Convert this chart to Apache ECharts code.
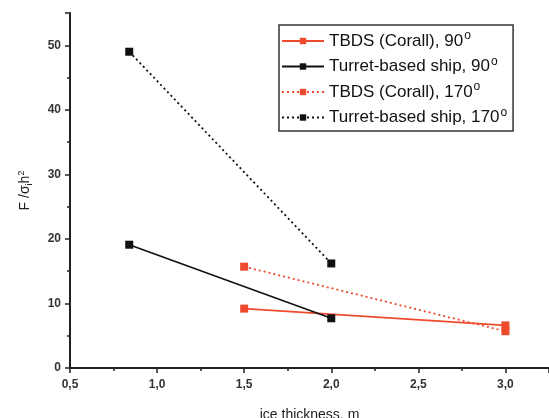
<!DOCTYPE html>
<html>
<head>
<meta charset="utf-8">
<script src="https://cdn.jsdelivr.net/npm/echarts@6/dist/echarts.min.js"></script>
<style>
  html, body { margin: 0; padding: 0; background: #fff; }
  #chart { width: 549px; height: 418px; }
</style>
</head>
<body>
<div id="chart"></div>
<script>
// ice thickness (m) and normalised force F/(sigma_i h^2)
const seriesNames = [
  'TBDS (Corall), 90',
  'Turret-based ship, 90',
  'TBDS (Corall), 170',
  'Turret-based ship, 170'
];
const coral90X = [1.5, 3.0];
const coral90Y = [9.2, 6.6];
const turret90X = [0.84, 2.0];
const turret90Y = [19.1, 7.7];
const coral170X = [1.5, 3.0];
const coral170Y = [15.7, 5.7];
const turret170X = [0.84, 2.0];
const turret170Y = [49.0, 16.2];

const RED = '#ee4a2e';
const BLACK = '#111';

function pairs(xs, ys) {
  return xs.map((x, i) => [x, ys[i]]);
}

function makeSeries(name, xs, ys, color, lineType) {
  return {
    name: name,
    type: 'line',
    data: pairs(xs, ys),
    symbol: 'rect',
    symbolSize: 8,
    itemStyle: { color: color },
    lineStyle: { color: color, width: lineType === 'solid' ? 1.6 : 1.8, type: lineType },
    animation: false
  };
}

const chart = echarts.init(document.getElementById('chart'));
chart.setOption({
  backgroundColor: '#fff',
  textStyle: { fontFamily: 'Liberation Sans, Arial, sans-serif' },
  grid: { left: 70, right: 0, top: 13, bottom: 50, outerBoundsMode: 'none', containLabel: false },
  legend: {
    orient: 'vertical',
    left: 279,
    top: 25,
    padding: [5, 6, 5, 2],
    itemGap: 6,
    itemWidth: 42,
    itemHeight: 8,
    borderColor: '#333',
    borderWidth: 1.5,
    formatter: name => '{t|' + name + '}{s|o}',
    textStyle: {
      rich: {
        t: { fontSize: 17, color: '#111', fontFamily: 'Liberation Sans' },
        s: { fontSize: 12, color: '#111', verticalAlign: 'top', padding: [0, 0, 10, 1], fontFamily: 'Liberation Sans' }
      }
    },
    data: seriesNames
  },
  xAxis: {
    type: 'value',
    min: 0.5,
    max: 3.25,
    interval: 0.5,
    name: 'ice thickness, m',
    nameLocation: 'middle',
    nameGap: 40,
    nameTextStyle: { fontSize: 14, color: '#222' },
    splitLine: { show: false },
    axisLine: { lineStyle: { color: '#222', width: 2 } },
    axisTick: { length: 5, lineStyle: { color: '#222', width: 1.5 } },
    minorTick: { show: true, splitNumber: 2, length: 3, lineStyle: { color: '#222', width: 1.5 } },
    axisLabel: {
      fontSize: 12, fontWeight: 'bold', color: '#333', margin: 11,
      showMaxLabel: false,
      formatter: v => v.toFixed(1).replace('.', ',')
    }
  },
  yAxis: {
    type: 'value',
    min: 0,
    max: 55,
    interval: 10,
    name: '{a|F /σ}{b|i}{a|h}{c|2}',
    nameLocation: 'middle',
    nameGap: 36,
    nameRotate: 90,
    nameTextStyle: {
      rich: {
        a: { fontSize: 14, color: '#222' },
        b: { fontSize: 9, color: '#222', verticalAlign: 'bottom', padding: [6, 0, 0, 0] },
        c: { fontSize: 9, color: '#222', verticalAlign: 'top', padding: [0, 0, 8, 0] }
      }
    },
    splitLine: { show: false },
    axisLine: { show: true, lineStyle: { color: '#222', width: 2 } },
    axisTick: { show: true, length: 5, lineStyle: { color: '#222', width: 1.5 } },
    minorTick: { show: true, splitNumber: 2, length: 3, lineStyle: { color: '#222', width: 1.5 } },
    axisLabel: { fontSize: 12, fontWeight: 'bold', color: '#333', margin: 9, showMaxLabel: false }
  },
  series: [
    makeSeries(seriesNames[0], coral90X, coral90Y, RED, 'solid'),
    makeSeries(seriesNames[1], turret90X, turret90Y, BLACK, 'solid'),
    makeSeries(seriesNames[2], coral170X, coral170Y, RED, [2, 3]),
    makeSeries(seriesNames[3], turret170X, turret170Y, BLACK, [2, 3])
  ]
});
</script>
</body>
</html>
